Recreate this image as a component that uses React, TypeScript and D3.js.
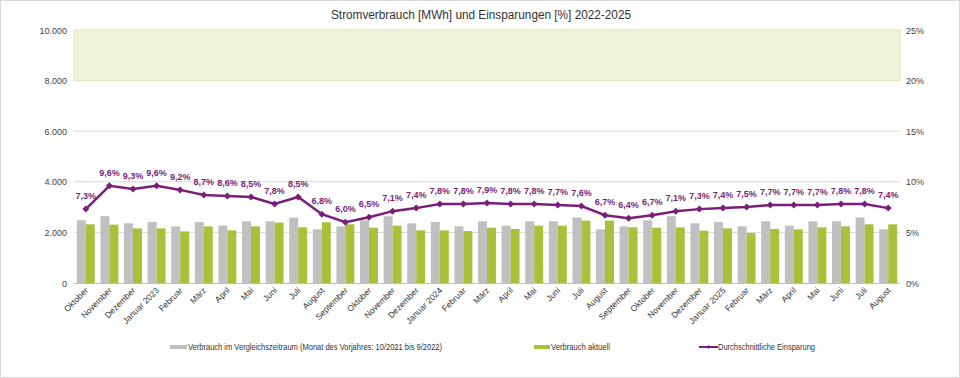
import React from "react";
import * as d3 from "d3";

const months = ["Oktober","November","Dezember","Januar 2023","Februar","März","April","Mai","Juni","Juli","August","September","Oktober","November","Dezember","Januar 2024","Februar","März","April","Mai","Juni","Juli","August","September","Oktober","November","Dezember","Januar 2025","Februar","März","April","Mai","Juni","Juli","August"];
const vergleich = [2480,2640,2360,2413,2240,2413,2267,2440,2440,2587,2120,2240,2480,2640,2360,2413,2240,2440,2267,2440,2440,2587,2120,2240,2480,2640,2360,2413,2240,2440,2267,2440,2440,2587,2120];
const aktuell = [2320,2307,2160,2160,2040,2240,2080,2240,2387,2200,2400,2320,2187,2267,2080,2080,2053,2187,2133,2267,2267,2467,2467,2200,2187,2200,2067,2160,1973,2133,2120,2200,2240,2320,2320];
const einsparung = [7.3,9.6,9.3,9.6,9.2,8.7,8.6,8.5,7.8,8.5,6.8,6.0,6.5,7.1,7.4,7.8,7.8,7.9,7.8,7.8,7.7,7.6,6.7,6.4,6.7,7.1,7.3,7.4,7.5,7.7,7.7,7.7,7.8,7.8,7.4];
const leftTicks = [0,2000,4000,6000,8000,10000];
const rightTicks = [0,5,10,15,20,25];
const legendLabels = ["Verbrauch im Vergleichszeitraum (Monat des Vorjahres: 10/2021 bis 9/2022)","Verbrauch aktuell","Durchschnittliche Einsparung"];

const W = 960, H = 378;
const L = 74, R = 900, T = 30, B = 283;
const GRAY = "#c0c0c0", GREEN = "#a8c13a", PURPLE = "#7a1f78";
const FONT = "'Liberation Sans', Arial, sans-serif";

export default function App() {
  const x = d3.scaleBand<number>().domain(d3.range(months.length)).range([L, R]).paddingInner(0).paddingOuter(0);
  const yL = d3.scaleLinear().domain([0, 10000]).range([B, T]);
  const yR = d3.scaleLinear().domain([0, 25]).range([B, T]);
  const bw = x.bandwidth();
  const barW = bw * 0.38;
  const fmtL = (v: number) => (v === 0 ? "0" : d3.format(",")(v).replace(",", "."));
  const fmtP = (v: number) => v.toFixed(1).replace(".", ",") + "%";
  const line = d3.line<number>().x((_, i) => x(i)! + bw / 2).y((d) => yR(d));

  return (
    <svg width={W} height={H} style={{ position: "absolute", left: 0, top: 0 }} fontFamily={FONT}>
      <rect x={0.5} y={0.5} width={W - 1} height={H - 1} fill="#fff" stroke="#d9d9d9" />
      <text x={481} y={19} textAnchor="middle" fontSize={12} fill="#333" textLength={300} lengthAdjust="spacingAndGlyphs">Stromverbrauch [MWh] und Einsparungen [%] 2022-2025</text>
      <rect x={L} y={yL(10000)} width={R - L} height={yL(8000) - yL(10000)} fill="#eef3da" stroke="#dfe6c2" />
      {leftTicks.filter((t) => t > 0 && t < 8000).map((t) => (
        <line key={t} x1={L} x2={R} y1={yL(t)} y2={yL(t)} stroke="#d9d9d9" />
      ))}
      <line x1={L} x2={R} y1={B + 0.5} y2={B + 0.5} stroke="#bfbfbf" />
      {leftTicks.map((t) => (
        <text key={t} x={67} y={yL(t) + 3.5} textAnchor="end" fontSize={9} fill="#444">{fmtL(t)}</text>
      ))}
      {rightTicks.map((t) => (
        <text key={t} x={906} y={yR(t) + 3.5} textAnchor="start" fontSize={9} fill="#444">{t}%</text>
      ))}
      {months.map((m, i) => {
        const x0 = x(i)! + (bw - 2 * barW) / 2;
        return (
          <g key={i}>
            <rect x={x0} y={yL(vergleich[i])} width={barW} height={B - yL(vergleich[i])} fill={GRAY} />
            <rect x={x0 + barW} y={yL(aktuell[i])} width={barW} height={B - yL(aktuell[i])} fill={GREEN} />
          </g>
        );
      })}
      <path d={line(einsparung)!} fill="none" stroke={PURPLE} strokeWidth={2.5} />
      {einsparung.map((v, i) => {
        const cx = x(i)! + bw / 2, cy = yR(v);
        return (
          <g key={i}>
            <path d={`M${cx},${cy - 3.5}L${cx + 3.5},${cy}L${cx},${cy + 3.5}L${cx - 3.5},${cy}Z`} fill={PURPLE} />
            <text x={cx} y={cy - 10} textAnchor="middle" fontSize={9} fontWeight="bold" fill={PURPLE}>{fmtP(v)}</text>
          </g>
        );
      })}
      {months.map((m, i) => {
        const cx = x(i)! + bw / 2 + 3;
        return (
          <text key={i} transform={`translate(${cx},${B + 8}) rotate(-45)`} textAnchor="end" fontSize={8.5} fill="#333">{m}</text>
        );
      })}
      <g fontSize={9} fill="#333">
        <rect x={170} y={345} width={17} height={4} fill={GRAY} />
        <text x={188} y={350} textLength={254} lengthAdjust="spacingAndGlyphs">{legendLabels[0]}</text>
        <rect x={534} y={345} width={16} height={4} fill={GREEN} />
        <text x={551} y={350} textLength={59} lengthAdjust="spacingAndGlyphs">{legendLabels[1]}</text>
        <line x1={699} x2={718} y1={347} y2={347} stroke={PURPLE} strokeWidth={2} />
        <path d="M708.5,345L710.5,347L708.5,349L706.5,347Z" fill={PURPLE} />
        <text x={718} y={350} textLength={97} lengthAdjust="spacingAndGlyphs">{legendLabels[2]}</text>
      </g>
    </svg>
  );
}
